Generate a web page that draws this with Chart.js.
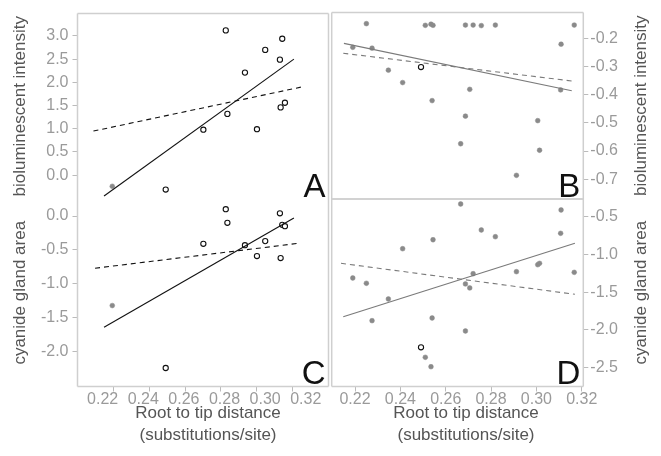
<!DOCTYPE html>
<html><head><meta charset="utf-8">
<script src="https://cdn.jsdelivr.net/npm/chart.js@4/dist/chart.umd.min.js"></script>
<style>
html,body{margin:0;padding:0;background:#fff;}
#wrap{position:relative;width:661px;height:456px;overflow:hidden;background:#fff;}
#wrap canvas{position:absolute;left:0;top:0;}
</style></head><body>
<div id="wrap">
<canvas id="cA" width="661" height="456"></canvas>
<canvas id="cC" width="661" height="456"></canvas>
<canvas id="cB" width="661" height="456"></canvas>
<canvas id="cD" width="661" height="456"></canvas>
</div>
<script>
// ---- tick labels ----
const xTickValues = [0.22, 0.24, 0.26, 0.28, 0.30, 0.32];
const yTicksA = [0.0, 0.5, 1.0, 1.5, 2.0, 2.5, 3.0];
const yTicksC = [-2.0, -1.5, -1.0, -0.5, 0.0];
const yTicksB = [-0.7, -0.6, -0.5, -0.4, -0.3, -0.2];
const yTicksD = [-2.5, -2.0, -1.5, -1.0, -0.5];

// ---- left column (A, C): open-circle species ----
const leftX  = [0.2492, 0.2702, 0.2827, 0.2836, 0.2934, 0.3001, 0.3047, 0.3129, 0.3133, 0.3142, 0.3157];
const biolumA = [-0.31, 0.98, 3.12, 1.32, 2.21, 0.99, 2.70, 2.49, 1.46, 2.94, 1.56];
const cyanideC = [-2.24, -0.41, 0.10, -0.10, -0.43, -0.59, -0.37, 0.04, -0.62, -0.13, -0.15];
const leftGrayX = [0.2194];
const leftGrayA = [-0.24];
const leftGrayC = [-1.32];

// ---- right column (B, D): gray species + one open circle ----
const rightX = [0.2190, 0.2250, 0.2275, 0.2347, 0.2410, 0.2510, 0.2535, 0.2544, 0.2540, 0.2666, 0.2687,
                0.2687, 0.2706, 0.2721, 0.2757, 0.2819, 0.2912, 0.3006, 0.3014, 0.3109, 0.3107, 0.3167];
const biolumB = [-0.232, -0.148, -0.235, -0.313, -0.357, -0.154, -0.150, -0.154, -0.421, -0.574, -0.153,
                 -0.476, -0.381, -0.153, -0.155, -0.153, -0.686, -0.492, -0.597, -0.221, -0.383, -0.153];
const cyanideD = [-1.312, -1.382, -1.877, -1.590, -0.924, -2.362, -2.487, -0.805, -1.842, -0.332, -1.391,
                  -2.014, -1.444, -1.255, -0.676, -0.765, -1.228, -1.136, -1.118, -0.411, -0.720, -1.237];
const rightOpenX = [0.2491];
const rightOpenB = [-0.302];
const rightOpenD = [-2.230];

// ---- fitted lines (end points) ----
const fitA_solid = [[0.2148, -0.45], [0.3207, 2.50]];
const fitA_dash  = [[0.2089, 0.95], [0.3250, 1.90]];
const fitC_solid = [[0.2148, -1.64], [0.3207, -0.03]];
const fitC_dash  = [[0.2098, -0.77], [0.3241, -0.40]];
const fitB_solid = [[0.2151, -0.218], [0.3156, -0.386]];
const fitB_dash  = [[0.2148, -0.253], [0.3163, -0.352]];
const fitD_solid = [[0.2148, -1.825], [0.3170, -0.853]];
const fitD_dash  = [[0.2138, -1.117], [0.3170, -1.528]];

const FONT = '"Liberation Sans", Arial, Helvetica, sans-serif';
Chart.defaults.font.family = FONT;
const W = 661, H = 456;

function pts(xs, ys) { return xs.map((x, i) => ({x: x, y: ys[i]})); }
function linePts(seg) { return seg.map(p => ({x: p[0], y: p[1]})); }

const decor = {
  id: 'decor',
  afterDraw(chart, args, o) {
    const ctx = chart.ctx, a = chart.chartArea;
    ctx.save();
    ctx.strokeStyle = '#cfcfcf'; ctx.lineWidth = 1.5;
    ctx.beginPath();
    if (o.sides.includes('t')) { ctx.moveTo(a.left, a.top); ctx.lineTo(a.right, a.top); }
    if (o.sides.includes('b')) { ctx.moveTo(a.left, a.bottom); ctx.lineTo(a.right, a.bottom); }
    if (o.sides.includes('l')) { ctx.moveTo(a.left, a.top); ctx.lineTo(a.left, a.bottom); }
    if (o.sides.includes('r')) { ctx.moveTo(a.right, a.top); ctx.lineTo(a.right, a.bottom); }
    ctx.stroke();
    ctx.fillStyle = '#111';
    ctx.font = '33px ' + FONT;
    ctx.textAlign = 'right'; ctx.textBaseline = 'alphabetic';
    ctx.fillText(o.letter, a.right - 3, a.bottom - 2.5);
    ctx.fillStyle = '#555';
    ctx.font = '17px ' + FONT;
    ctx.save();
    ctx.translate(o.titleX, (a.top + a.bottom) / 2);
    ctx.rotate(-Math.PI / 2);
    ctx.textAlign = 'center'; ctx.textBaseline = 'middle';
    ctx.fillText(o.yTitle, 0, 0);
    ctx.restore();
    if (o.xTitle) {
      ctx.textAlign = 'center'; ctx.textBaseline = 'middle';
      ctx.fillText(o.xTitle[0], o.xTitleX, 413);
      ctx.fillText(o.xTitle[1], o.xTitleX, 435);
    }
    ctx.restore();
  }
};

function panel(id, p) {
  const leftAxis = p.yPos === 'left';
  const pad = {
    top: p.area.t,
    bottom: p.showX ? 0 : H - p.area.b,
    left: leftAxis ? 0 : p.area.l,
    right: leftAxis ? W - p.area.r : 0
  };
  const lineColor = p.lineColor;
  const datasets = [
    {type: 'line', data: linePts(p.solid), borderColor: lineColor, borderWidth: 1.1, pointRadius: 0, fill: false},
    {type: 'line', data: linePts(p.dash), borderColor: lineColor, borderWidth: 1.1, borderDash: [5, 4], pointRadius: 0, fill: false},
    {type: 'scatter', data: p.gray, pointRadius: 2.4, backgroundColor: '#8a8a8a', borderColor: '#8a8a8a', borderWidth: 0.5},
    {type: 'scatter', data: p.open, pointRadius: 2.6, backgroundColor: '#ffffff', borderColor: '#111', borderWidth: 1.1}
  ];
  const sepLabels = !!p.labelRange;
  const scales = {
    x: {
      type: 'linear', position: 'bottom', weight: 0, min: p.xMin, max: p.xMax, display: p.showX,
      afterBuildTicks: s => { s.ticks = xTickValues.map(v => ({value: v})); },
      afterFit: s => { s.height = p.showX ? (sepLabels ? 5 : H - p.area.b) : 0; },
      ticks: {display: !sepLabels, callback: v => v.toFixed(2), color: '#9a9a9a', font: {size: 16}, padding: -1.5, maxRotation: 0, autoSkip: false},
      grid: {drawOnChartArea: false, drawTicks: true, tickLength: 5, color: '#bbbbbb'},
      border: {display: false}
    },
    y: {
      type: 'linear', position: p.yPos, min: p.yMin, max: p.yMax,
      afterBuildTicks: s => { s.ticks = p.yTicks.map(v => ({value: v})); },
      afterFit: s => { s.width = leftAxis ? p.area.l : W - p.area.r; },
      ticks: {callback: v => v.toFixed(1), color: '#9a9a9a', font: {size: 16}, padding: leftAxis ? 4 : 2, autoSkip: false},
      grid: {drawOnChartArea: false, drawTicks: true, tickLength: 5, color: '#bbbbbb'},
      border: {display: false}
    }
  };
  if (sepLabels) {
    scales.x2 = {
      type: 'linear', position: 'bottom', weight: 1, min: p.labelRange[0], max: p.labelRange[1],
      afterBuildTicks: s => { s.ticks = xTickValues.map(v => ({value: v})); },
      afterFit: s => { s.height = H - p.area.b - 5; },
      ticks: {callback: v => v.toFixed(2), color: '#9a9a9a', font: {size: 16}, padding: -1.5, maxRotation: 0, autoSkip: false},
      grid: {display: false, drawTicks: false},
      border: {display: false}
    };
  }
  return new Chart(document.getElementById(id), {
    data: {datasets: datasets},
    options: {
      responsive: false, animation: false, devicePixelRatio: 1, events: [],
      layout: {padding: pad},
      plugins: {legend: {display: false}, tooltip: {enabled: false},
        decor: {sides: p.sides, letter: p.letter, yTitle: p.yTitle, titleX: p.titleX, xTitle: p.xTitle, xTitleX: p.xTitleX}},
      scales: scales
    },
    plugins: [decor]
  });
}

panel('cA', {
  area: {l: 77.5, t: 12.5, r: 328.5, b: 199}, yPos: 'left', showX: false,
  xMin: 0.20, xMax: 0.34, yMin: -0.514, yMax: 3.482, yTicks: yTicksA,
  solid: fitA_solid, dash: fitA_dash, lineColor: '#111',
  gray: pts(leftGrayX, leftGrayA), open: pts(leftX, biolumA),
  sides: 'tlr', letter: 'A', yTitle: 'bioluminescent intensity', titleX: 20
});
panel('cC', {
  area: {l: 77.5, t: 199, r: 328.5, b: 386.5}, yPos: 'left', showX: true,
  xMin: 0.20, xMax: 0.34, labelRange: [0.2076, 0.3312], yMin: -2.513, yMax: 0.2506, yTicks: yTicksC,
  solid: fitC_solid, dash: fitC_dash, lineColor: '#111',
  gray: pts(leftGrayX, leftGrayC), open: pts(leftX, cyanideC),
  sides: 'lrb', letter: 'C', yTitle: 'cyanide gland area', titleX: 20,
  xTitle: ['Root to tip distance', '(substitutions/site)'], xTitleX: 208
});
panel('cB', {
  area: {l: 331.7, t: 12.5, r: 583.3, b: 199}, yPos: 'right', showX: false,
  xMin: 0.2097, xMax: 0.3207, yMin: -0.7699, yMax: -0.1085, yTicks: yTicksB,
  solid: fitB_solid, dash: fitB_dash, lineColor: '#7a7a7a',
  gray: pts(rightX, biolumB), open: pts(rightOpenX, rightOpenB),
  sides: 'tlrb', letter: 'B', yTitle: 'bioluminescent intensity', titleX: 641
});
panel('cD', {
  area: {l: 331.7, t: 199, r: 583.3, b: 386.5}, yPos: 'right', showX: true,
  xMin: 0.2097, xMax: 0.3207, yMin: -2.749, yMax: -0.2656, yTicks: yTicksD,
  solid: fitD_solid, dash: fitD_dash, lineColor: '#7a7a7a',
  gray: pts(rightX, cyanideD), open: pts(rightOpenX, rightOpenD),
  sides: 'tlrb', letter: 'D', yTitle: 'cyanide gland area', titleX: 641,
  xTitle: ['Root to tip distance', '(substitutions/site)'], xTitleX: 466
});
</script>
</body></html>
